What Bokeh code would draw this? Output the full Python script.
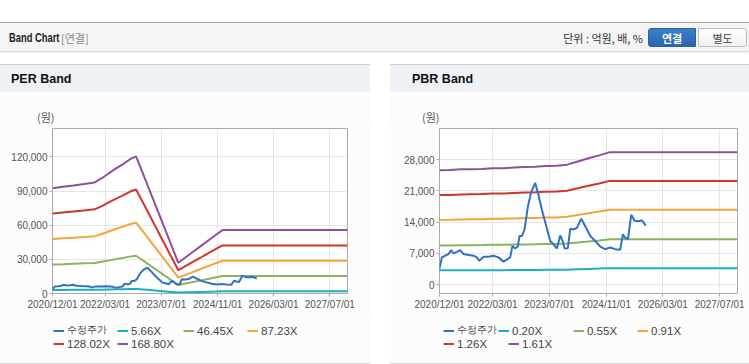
import pandas as pd
from bokeh.plotting import figure
from bokeh.models import (Range1d, FixedTicker, NumeralTickFormatter, Legend,
                          LegendItem, Div, Spacer)
from bokeh.layouts import column, row
from bokeh.core.properties import value
from bokeh.embed import file_html
from bokeh.resources import INLINE

# ---------------- data ----------------
x_tick_labels = ["2020/12/01", "2022/03/01", "2023/07/01", "2024/11/01", "2026/03/01", "2027/07/01"]
x_start = "2020-12-01"
x_end = "2027-12-01"

price_label = "수정주가"
price_dates = ["2020-12-01", "2020-12-21", "2021-01-19", "2021-02-16", "2021-03-11", "2021-03-31",
               "2021-04-29", "2021-05-27", "2021-06-25", "2021-08-07", "2021-09-19", "2021-10-17",
               "2021-11-06", "2021-12-14", "2022-01-25", "2022-03-09", "2022-04-21", "2022-06-03",
               "2022-07-02", "2022-07-30", "2022-08-19", "2022-09-11", "2022-10-04", "2022-10-18",
               "2022-11-07", "2022-11-30", "2022-12-29", "2023-01-27", "2023-03-02", "2023-03-30",
               "2023-04-28", "2023-06-01", "2023-07-09", "2023-08-06", "2023-09-04", "2023-10-02",
               "2023-10-22", "2023-11-09", "2023-12-07", "2023-12-27", "2024-01-25", "2024-02-22",
               "2024-03-31", "2024-05-04", "2024-06-16", "2024-07-29", "2024-09-10", "2024-10-22",
               "2024-12-04", "2025-01-16", "2025-02-28", "2025-03-23", "2025-04-12", "2025-05-05",
               "2025-06-03", "2025-07-01", "2025-08-04", "2025-09-02", "2025-10-06"]
price_values = [3530, 6100, 6470, 6840, 7720, 6980, 7350, 7720, 6840, 6620, 6470, 6100,
                5370, 6250, 6250, 6470, 6100, 5150, 5590, 6100, 8670, 8090, 8530, 10880,
                10880, 12350, 17490, 20800, 22800, 20070, 16760, 13450, 9780, 9040, 8090, 11030,
                9780, 8090, 8160, 12500, 12350, 12720, 14770, 13080, 10880, 9780, 8530, 7940,
                8310, 7940, 7790, 11250, 10510, 10140, 15660, 14330, 14190, 14410, 13230]

per_band_dates = ["2020-12-01", "2021-03-01", "2021-06-01", "2021-09-01", "2021-12-01", "2022-02-01",
                  "2022-04-01", "2022-06-01", "2022-08-01", "2022-10-01", "2022-11-25", "2023-03-01",
                  "2023-06-01", "2023-09-01", "2023-11-26", "2024-03-01", "2024-06-01", "2024-09-01",
                  "2024-12-12", "2027-12-01"]
per_labels = ["5.66X", "46.45X", "87.23X", "128.02X", "168.80X"]
per_5_66 = [3100, 3150, 3190, 3230, 3270, 3400, 3540, 3680, 3800, 3950, 4040, 3230, 2430, 1640,
            910, 1150, 1380, 1610, 1870, 1870]
per_46_45 = [25500, 25800, 26200, 26500, 26800, 27900, 29000, 30200, 31200, 32400, 33200, 26500,
             20000, 13500, 7400, 9400, 11300, 13200, 15300, 15300]
per_87_23 = [47800, 48500, 49100, 49700, 50400, 52300, 54500, 56700, 58600, 60900, 62300, 49700,
             37500, 25300, 14000, 17700, 21300, 24900, 28800, 28800]
per_128_02 = [70200, 71200, 72100, 73000, 74000, 76800, 80000, 83200, 86000, 89400, 91400, 73000,
              55000, 37100, 20500, 26000, 31200, 36500, 42200, 42200]
per_168_80 = [92500, 93900, 95000, 96200, 97600, 101300, 105500, 109700, 113400, 117800, 120500,
              96200, 72600, 49000, 27000, 34300, 41200, 48100, 55700, 55700]
per_y_ticks = [0, 30000, 60000, 90000, 120000]

pbr_band_dates = ["2020-12-01", "2021-03-01", "2021-06-01", "2021-09-01", "2021-12-01", "2022-03-01",
                  "2022-06-01", "2022-09-01", "2022-12-01", "2023-03-01", "2023-06-01", "2023-09-01",
                  "2023-12-01", "2024-03-01", "2024-06-01", "2024-09-01", "2024-12-01", "2027-12-01"]
pbr_labels = ["0.20X", "0.55X", "0.91X", "1.26X", "1.61X"]
pbr_0_20 = [3190, 3190, 3210, 3220, 3220, 3240, 3240, 3260, 3280, 3280, 3300, 3310, 3340, 3430,
            3520, 3600, 3690, 3690]
pbr_0_55 = [8760, 8770, 8830, 8840, 8860, 8910, 8920, 8970, 9010, 9030, 9080, 9110, 9190, 9430,
            9680, 9900, 10150, 10150]
pbr_0_91 = [14500, 14520, 14610, 14630, 14650, 14740, 14760, 14830, 14910, 14940, 15020, 15070,
            15200, 15610, 16020, 16380, 16790, 16790]
pbr_1_26 = [20070, 20100, 20220, 20260, 20290, 20410, 20440, 20540, 20640, 20690, 20790, 20870,
            21040, 21610, 22180, 22680, 23250, 23250]
pbr_1_61 = [25650, 25680, 25840, 25890, 25920, 26080, 26110, 26240, 26370, 26440, 26570, 26660,
            26890, 27610, 28340, 28980, 29700, 29700]
pbr_y_ticks = [0, 7000, 14000, 21000, 28000]

unit_label = "(원)"

# ---------------- style ----------------
PRICE_COLOR = "#2f72c4"
BAND_COLORS = ["#1badc5", "#8db35a", "#f3a43a", "#d2342b", "#8e4f9c"]
AX_FONT = "Liberation Sans"
KR_FONT = "Noto Sans CJK KR"
PANEL_BG = "#fcfcfc"


def to_dt(lst):
    return pd.to_datetime(lst)


def draw_series(p, band_dates, bands):
    bd = to_dt(band_dates)
    rs = []
    for vals, col in zip(bands, BAND_COLORS):
        rs.append(p.line(bd, vals, line_color=col, line_width=2))
    pr = p.line(to_dt(price_dates), price_values, line_color=PRICE_COLOR, line_width=2)
    return [pr] + rs


def make_chart(band_dates, bands, yticks, ystart, yend, width, b_left, b_right):
    p = figure(width=width, height=187, x_axis_type="datetime",
               output_backend="svg", toolbar_location=None,
               min_border_left=b_left, min_border_right=b_right,
               min_border_top=3, min_border_bottom=17)
    p.x_range = Range1d(pd.Timestamp(x_start), pd.Timestamp(x_end))
    p.y_range = Range1d(ystart, yend)
    p.border_fill_color = PANEL_BG
    p.background_fill_color = "#ffffff"
    p.outline_line_color = "#aaaaaa"
    p.outline_line_width = 1

    draw_series(p, band_dates, bands)

    tick_ms = [pd.Timestamp(s.replace("/", "-")).value / 1e6 for s in x_tick_labels]
    p.xaxis.ticker = FixedTicker(ticks=tick_ms)
    p.xaxis.major_label_overrides = {t: s for t, s in zip(tick_ms, x_tick_labels)}
    p.yaxis.ticker = FixedTicker(ticks=yticks)
    p.yaxis.formatter = NumeralTickFormatter(format="0,0")

    for ax in (p.xaxis[0], p.yaxis[0]):
        ax.axis_line_color = None
        ax.major_tick_line_color = "#aaaaaa"
        ax.major_tick_in = 0
        ax.major_tick_out = 3
        ax.minor_tick_line_color = None
        ax.major_label_text_font = AX_FONT
        ax.major_label_text_font_size = "10px"
        ax.major_label_text_color = "#555555"
        ax.major_label_standoff = 2
    p.xgrid.grid_line_color = "#e6e6e6"
    p.ygrid.grid_line_color = "#e6e6e6"
    return p


def make_legend(band_dates, bands, labels, width, positions):
    # legend strip: its ranges keep the series out of view, only the legend shows
    lf = figure(width=width, height=51, output_backend="svg", toolbar_location=None,
                min_border_left=0, min_border_right=0, min_border_top=0, min_border_bottom=0,
                x_axis_location=None, y_axis_location=None)
    lf.x_range = Range1d(0, 1)
    lf.y_range = Range1d(0, 1)
    lf.border_fill_color = PANEL_BG
    lf.background_fill_color = PANEL_BG
    lf.outline_line_color = None
    lf.grid.visible = False
    renderers = draw_series(lf, band_dates, bands)
    all_labels = [price_label] + labels
    for r, lab, (dx, dy) in zip(renderers, all_labels, positions):
        lg = Legend(items=[LegendItem(label=value(lab), renderers=[r])],
                    location=(dx, dy), orientation="horizontal",
                    padding=0, margin=0, spacing=0,
                    border_line_alpha=0, background_fill_alpha=0,
                    glyph_width=11, glyph_height=13, label_height=13,
                    label_standoff=3, label_text_font=AX_FONT,
                    label_text_font_size="10px" if lab == price_label else "11.5px",
                    label_text_color="#444444")
        lf.add_layout(lg)
    return lf


def head_html(text, w, title_left, unit_left):
    return f"""
<div style="position:relative;width:{w}px;height:63px;background:#ffffff;">
  <div style="position:absolute;left:0;top:2px;width:{w}px;height:61px;background:{PANEL_BG};"></div>
  <div style="position:absolute;left:0;top:2px;width:{w}px;height:28px;background:#eef2f7;
              border-top:1px solid #d0d0d0;"></div>
  <div style="position:absolute;left:{title_left}px;top:8px;font-family:'{AX_FONT}',sans-serif;font-weight:bold;
              font-size:12.5px;color:#111;line-height:18px;">{text}</div>
  <div style="position:absolute;left:{unit_left}px;top:47px;font-family:'{KR_FONT}',sans-serif;
              font-size:11px;color:#555;line-height:16px;">{unit_label}</div>
</div>
"""


header_html = f"""
<div style="position:relative;width:749px;height:62px;font-family:'{KR_FONT}',sans-serif;">
  <div style="position:absolute;left:0;top:22px;width:749px;height:29px;background:#f4f4f4;
              border-top:1px solid #aaaaaa;box-shadow:0 1px 2px #cccccc;"></div>
  <div style="position:absolute;left:9px;top:28px;font-family:'{AX_FONT}',sans-serif;
              font-weight:bold;font-size:13px;color:#222;line-height:20px;
              transform:scaleX(0.72);transform-origin:left;">Band Chart</div>
  <div style="position:absolute;left:61px;top:28px;font-size:11px;color:#888;line-height:20px;">[연결]</div>
  <div style="position:absolute;right:106px;top:28px;font-size:11px;color:#333;line-height:20px;">단위 : 억원, 배, %</div>
  <div style="position:absolute;left:648px;top:28px;width:48px;height:19px;background:linear-gradient(#3a7ec9,#2a66ae);
              border:1px solid #2a5f9e;border-radius:3px 0 0 3px;color:#fff;font-weight:bold;font-size:11px;
              text-align:center;line-height:19px;">연결</div>
  <div style="position:absolute;left:698px;top:28px;width:49px;height:19px;background:linear-gradient(#ffffff,#f0f0f0);
              border:1px solid #bbbbbb;border-radius:0 3px 3px 0;color:#444;font-size:11px;
              text-align:center;line-height:19px;">별도</div>
</div>
"""

per_bands = [per_5_66, per_46_45, per_87_23, per_128_02, per_168_80]
pbr_bands = [pbr_0_20, pbr_0_55, pbr_0_91, pbr_1_26, pbr_1_61]

per_head = Div(text=head_html("PER Band", 370, 11, 37), width=370, height=63, margin=0)
per_chart = make_chart(per_band_dates, per_bands, per_y_ticks, 0, 145000, 370, 52, 23)
per_leg = make_legend(per_band_dates, per_bands, per_labels, 370,
                      [(1, 26), (65, 26), (131, 26), (195, 26), (1, 13), (65, 13)])
per_line = Div(text="", width=370, height=1, margin=0, styles={"background-color": "#d8d8d8"})

pbr_head = Div(text=head_html("PBR Band", 359, 22, 32), width=359, height=63, margin=0)
pbr_chart = make_chart(pbr_band_dates, pbr_bands, pbr_y_ticks, -2000, 35000, 359, 49, 12)
pbr_leg = make_legend(pbr_band_dates, pbr_bands, pbr_labels, 359,
                      [(4, 26), (59, 26), (134, 26), (198, 26), (4, 13), (69, 13)])
pbr_line = Div(text="", width=359, height=1, margin=0, styles={"background-color": "#d8d8d8"})

header = Div(text=header_html, width=749, height=62, margin=0)

layout = column(header,
                row(column(per_head, per_chart, per_leg, per_line, spacing=0),
                    Spacer(width=20, height=302, margin=0),
                    column(pbr_head, pbr_chart, pbr_leg, pbr_line, spacing=0), spacing=0),
                spacing=0)

open("out.html", "w").write(file_html(layout, INLINE))
